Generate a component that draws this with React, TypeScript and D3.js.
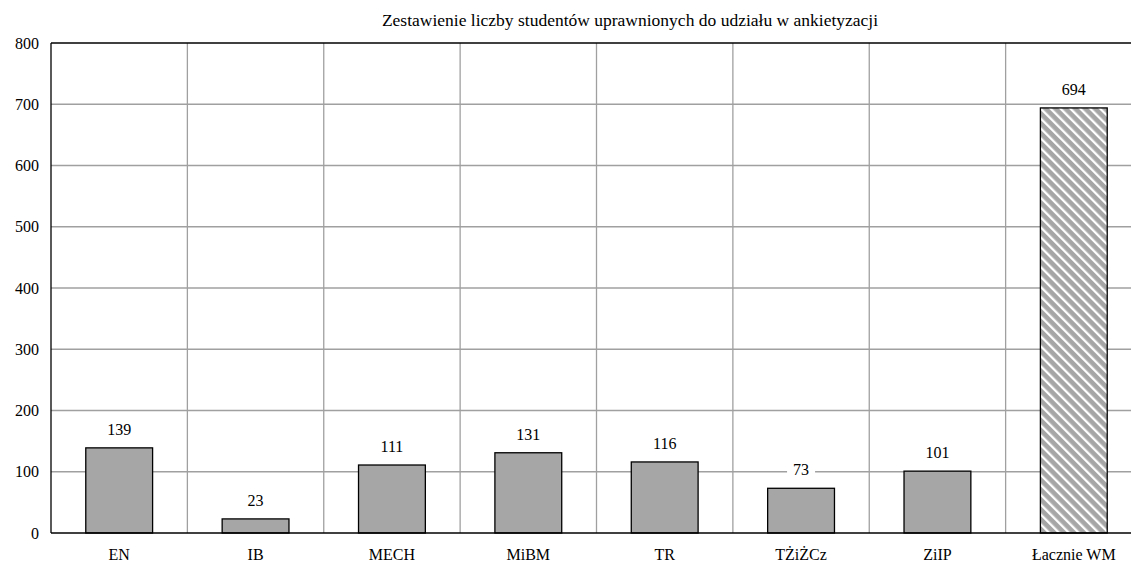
import React from "react";
import * as d3 from "d3";

const title = "Zestawienie liczby studentów uprawnionych do udziału w ankietyzacji";
const categories = ["EN", "IB", "MECH", "MiBM", "TR", "TŻiŻCz", "ZiIP", "Łacznie WM"];
const values = [139, 23, 111, 131, 116, 73, 101, 694];
const hatched = [false, false, false, false, false, false, false, true];
const yTicks = [0, 100, 200, 300, 400, 500, 600, 700, 800];

const W = 1131;
const H = 564;
const M = { left: 51, top: 43, right: 1142, bottom: 533 };
const FONT = "'Liberation Serif', 'Times New Roman', serif";

export default function App() {
  const x = d3.scaleBand<string>().domain(categories).range([M.left, M.right]).paddingInner(0).paddingOuter(0);
  const y = d3.scaleLinear().domain([0, 800]).range([M.bottom, M.top]);
  const bw = x.bandwidth() * 0.49;
  const boundaries = categories.slice(1).map((c) => x(c) as number);

  return (
    <div style={{ position: "absolute", left: 0, top: 0 }}>
      <svg width={W} height={H} style={{ display: "block", background: "#fff" }} fontFamily={FONT}>
        <defs>
          <pattern id="hatch" patternUnits="userSpaceOnUse" width={7} height={7} patternTransform="rotate(-45)">
            <rect x={0} y={0} width={7} height={7} fill="#a6a6a6" />
            <rect x={0} y={0} width={2.3} height={7} fill="#ffffff" />
          </pattern>
        </defs>
        <rect x={0} y={0} width={W} height={H} fill="#fff" />
        <text x={630} y={26} textAnchor="middle" fontSize={17.5} fill="#000">{title}</text>
        {yTicks.filter((t) => t > 0 && t < 800).map((t) => (
          <line key={"h" + t} x1={M.left} x2={M.right} y1={y(t)} y2={y(t)} stroke="#a0a0a0" strokeWidth={1.3} />
        ))}
        {boundaries.map((bx, i) => (
          <line key={"v" + i} x1={bx} x2={bx} y1={M.top} y2={M.bottom} stroke="#a0a0a0" strokeWidth={1.3} />
        ))}
        <line x1={M.left} x2={M.right} y1={M.top} y2={M.top} stroke="#000" strokeWidth={1.3} />
        <line x1={M.left} x2={M.left} y1={M.top} y2={M.bottom} stroke="#000" strokeWidth={1.3} />
        {categories.map((c, i) => {
          const cx = (x(c) as number) + x.bandwidth() / 2;
          return (
            <rect key={"b" + c} x={cx - bw / 2} y={y(values[i])} width={bw} height={M.bottom - y(values[i])}
              fill={hatched[i] ? "url(#hatch)" : "#a6a6a6"} stroke="#000" strokeWidth={1.3} />
          );
        })}
        <line x1={M.left} x2={M.right} y1={M.bottom} y2={M.bottom} stroke="#000" strokeWidth={1.3} />
        {categories.map((c, i) => {
          const cx = (x(c) as number) + x.bandwidth() / 2;
          const ty = y(values[i]) - 13;
          const label = String(values[i]);
          const tw = label.length * 8 + 12;
          return (
            <g key={"l" + c}>
              <rect x={cx - tw / 2} y={ty - 13} width={tw} height={17} fill="#fff" />
              <text x={cx} y={ty} textAnchor="middle" fontSize={16} fill="#000">{label}</text>
            </g>
          );
        })}
        {yTicks.map((t) => (
          <text key={"y" + t} x={39} y={y(t) + 5.5} textAnchor="end" fontSize={16} fill="#000">{t}</text>
        ))}
        {categories.map((c) => (
          <text key={"x" + c} x={(x(c) as number) + x.bandwidth() / 2} y={560} textAnchor="middle" fontSize={16} fill="#000">{c}</text>
        ))}
      </svg>
    </div>
  );
}
